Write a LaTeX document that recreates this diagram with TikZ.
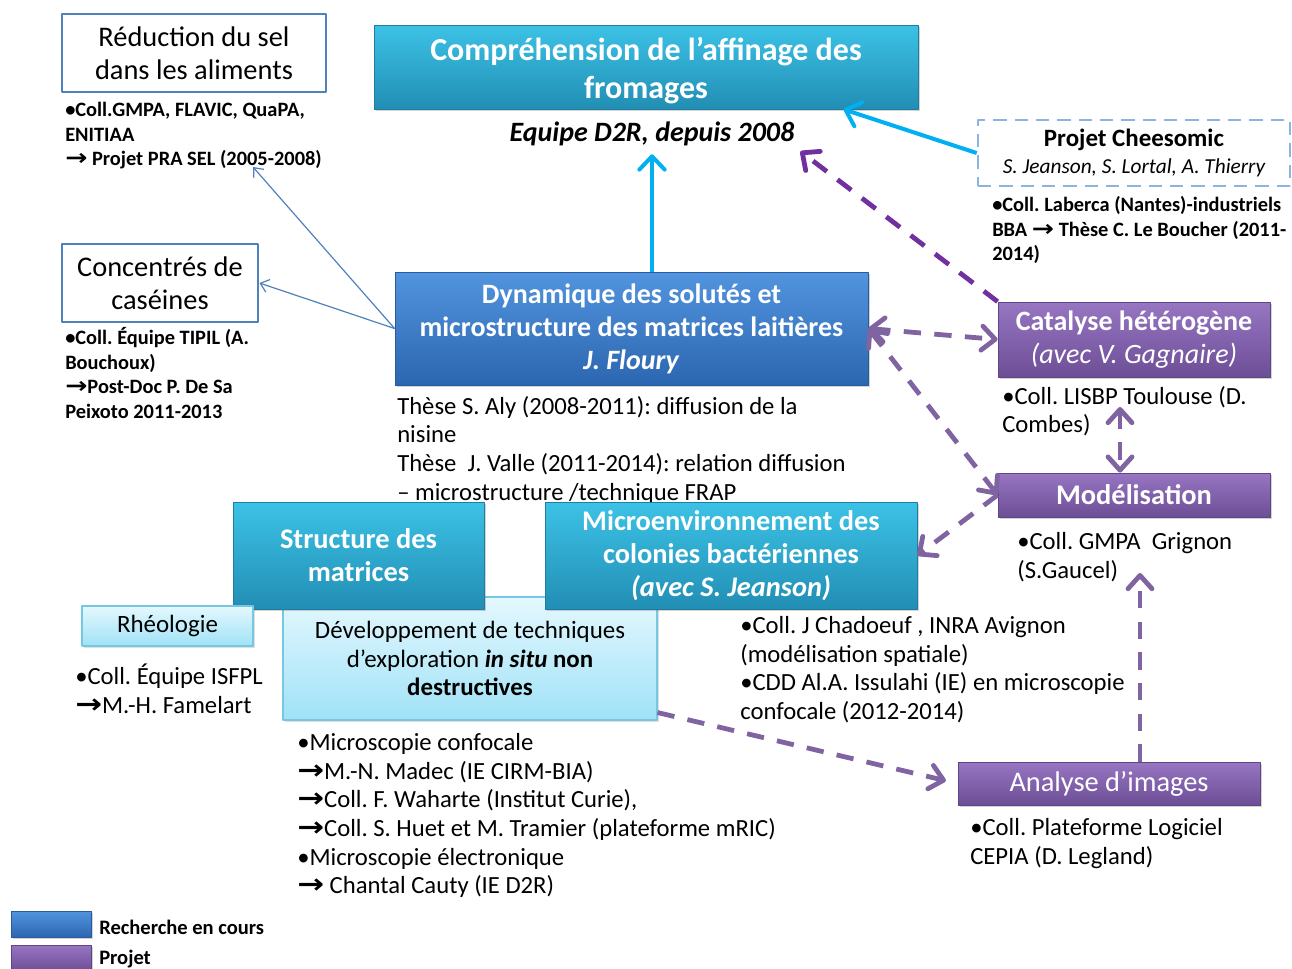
\documentclass[tikz,border=0pt]{standalone}
\usepackage{fontspec}
\setmainfont{Carlito}
\newfontfamily\arrowfont{DejaVu Sans}
\usetikzlibrary{arrows.meta,shadows}
\frenchspacing

\definecolor{cyantop}{RGB}{60,194,230}
\definecolor{cyanbot}{RGB}{34,142,180}
\definecolor{cyanedge}{RGB}{30,125,160}
\definecolor{bluetop}{RGB}{82,148,222}
\definecolor{bluebot}{RGB}{44,102,176}
\definecolor{blueedge}{RGB}{40,90,160}
\definecolor{violettop}{RGB}{152,118,194}
\definecolor{violetbot}{RGB}{108,78,150}
\definecolor{violetedge}{RGB}{95,68,135}
\definecolor{paletop}{RGB}{228,248,254}
\definecolor{palebot}{RGB}{160,226,247}
\definecolor{paleedge}{RGB}{118,200,226}
\definecolor{boxblue}{RGB}{79,129,189}
\definecolor{dashblue}{RGB}{141,179,226}
\definecolor{skyline}{RGB}{0,176,240}
\definecolor{violetline}{RGB}{128,100,162}
\definecolor{darkviolet}{RGB}{112,48,160}

\newcommand{\ra}{{\arrowfont\bfseries\scalebox{1.3}[1.1]{→}}}

\begin{document}
\begin{tikzpicture}[x=0.75pt,y=-0.75pt,join=round,
    shade box/.style={align=center,text=white,inner sep=0pt,
      drop shadow={shadow xshift=1.8pt,shadow yshift=-1.8pt,opacity=.35}},
    cyanbox/.style={shade box,top color=cyantop,bottom color=cyanbot,draw=cyanedge,line width=.6pt},
    bluebox/.style={shade box,top color=bluetop,bottom color=bluebot,draw=blueedge,line width=.6pt},
    violetbox/.style={shade box,top color=violettop,bottom color=violetbot,draw=violetedge,line width=.6pt},
    palebox/.style={align=center,inner sep=0pt,top color=paletop,bottom color=palebot,draw=paleedge,line width=.8pt,
      drop shadow={shadow xshift=1.5pt,shadow yshift=-1.5pt,opacity=.25},font=\fontsize{18.7}{21.6}\selectfont},
    whitebox/.style={align=center,inner sep=0pt,fill=white,draw=boxblue,line width=2.2pt,font=\fontsize{21.3}{24.75}\selectfont},
    smallnote/.style={anchor=north west,align=left,inner sep=0pt,font=\bfseries\fontsize{15.3}{18.5}\selectfont},
    note/.style={anchor=north west,align=left,inner sep=0pt,font=\fontsize{18.5}{21.5}\selectfont},
    skyarr/.style={draw=skyline,line width=3pt,-{Straight Barb[length=10pt,width=19pt,round]}},
    thinarr/.style={draw=boxblue,line width=.9pt,-{Straight Barb[length=6pt,width=10pt]}},
    violetarr/.style={draw=violetline,line width=3.6pt,dash pattern=on 13pt off 10pt,
      -{Straight Barb[length=10pt,width=18pt,round]}},
    darkarr/.style={violetarr,draw=darkviolet}]
\useasboundingbox (0,0) rectangle (1292,968);

% boites du haut
\node[whitebox,minimum width=198pt,minimum height=58.5pt] (reduc) at (194,53) {Réduction du sel\\dans les aliments};
\node[smallnote] (reducnote) at (65,102) {•Coll.GMPA, FLAVIC, QuaPA,\\ENITIAA\\\ra{} Projet PRA SEL (2005-2008)};
\node[cyanbox,minimum width=408pt,minimum height=63pt] (compr) at (646,67) {};
\node[text=white,align=center,inner sep=0pt,font=\bfseries\fontsize{24}{28}\selectfont] (comprtext) at (646,70.5)
  {Compréhension de l’affinage des\\fromages};
\node[font=\bfseries\itshape\fontsize{21}{24}\selectfont,inner sep=2pt] (d2r) at (652,134) {Equipe D2R, depuis 2008};
\node[draw=dashblue,line width=2pt,dash pattern=on 10pt off 6pt,align=center,inner sep=0pt,
  minimum width=234pt,minimum height=49.5pt,font=\fontsize{18.7}{20}\selectfont] (cheese) at (1134,153)
  {\textbf{Projet Cheesomic}\\{\fontsize{16}{18}\selectfont\itshape S. Jeanson, S. Lortal, A. Thierry}};
\node[smallnote] (cheesenote) at (992,196) {•Coll. Laberca (Nantes)-industriels\\BBA \ra{} Thèse C. Le Boucher (2011-\\2014)};

% milieu
\node[whitebox,minimum width=147pt,minimum height=58.5pt] (conc) at (160,283) {Concentrés de\\caséines};
\node[smallnote] (concnote) at (65,327) {•Coll. Équipe TIPIL (A.\\Bouchoux)\\\ra{}Post-Doc P. De Sa\\Peixoto 2011-2013};
\node[bluebox,minimum width=354.75pt,minimum height=84.75pt,font=\bfseries\fontsize{21}{24.75}\selectfont] (dyn) at (631.5,328.5)
  {Dynamique des solutés et\\microstructure des matrices laitières\\\textit{J. Floury}};
\node[note] (dynnote) at (397,396) {Thèse S. Aly (2008-2011): diffusion de la\\nisine\\Thèse\ \ J. Valle (2011-2014): relation diffusion\\– microstructure /technique FRAP};
\node[violetbox,minimum width=204pt,minimum height=56.25pt,font=\fontsize{21}{25}\selectfont] (cata) at (1134,339.5)
  {\textbf{Catalyse hétérogène}\\\textit{(avec V. Gagnaire)}};
\node[note] (catanote) at (1002,386) {•Coll. LISBP Toulouse (D.\\Combes)};
\node[violetbox,minimum width=204pt,minimum height=33pt,font=\bfseries\fontsize{21.3}{24}\selectfont] (model) at (1134,495) {Modélisation};
\node[note] (modelnote) at (1017,532) {•Coll. GMPA\ \ Grignon\\(S.Gaucel)};

% bas
\node[palebox,minimum width=280.5pt,minimum height=92.25pt] (dev) at (470,658.5)
  {Développement de techniques\\d’exploration \textbf{\textit{in situ}} \textbf{non}\\\textbf{destructives}};
\node[cyanbox,minimum width=188.25pt,minimum height=80.25pt,font=\bfseries\fontsize{21.3}{24.75}\selectfont] (struct) at (358.5,555.5) {Structure des\\matrices};
\node[cyanbox,minimum width=279pt,minimum height=80.25pt,font=\bfseries\fontsize{21.3}{24.75}\selectfont] (micro) at (731,555.5)
  {Microenvironnement des\\colonies bactériennes\\\textit{(avec S. Jeanson)}};
\node[palebox,minimum width=128.25pt,minimum height=30pt] (rheo) at (167.5,626) {Rhéologie};
\node[note] (rheonote) at (75,664) {•Coll. Équipe ISFPL\\\ra{}M.-H. Famelart};
\node[note] (devnote) at (297,733) {•Microscopie confocale\\\ra{}M.-N. Madec (IE CIRM-BIA)\\\ra{}Coll. F. Waharte (Institut Curie),\\\ra{}Coll. S. Huet et M. Tramier (plateforme mRIC)\\•Microscopie électronique\\\ra{} Chantal Cauty (IE D2R)};
\node[note] (micronote) at (740,616) {•Coll. J Chadoeuf , INRA Avignon\\(modélisation spatiale)\\•CDD Al.A. Issulahi (IE) en microscopie\\confocale (2012-2014)};
\node[violetbox,minimum width=226.5pt,minimum height=32.25pt,font=\fontsize{21.3}{24}\selectfont] (analyse) at (1109,783.5) {Analyse d’images};
\node[note] (analysenote) at (970,818) {•Coll. Plateforme Logiciel\\CEPIA (D. Legland)};

% legende
\node[bluebox,minimum width=60pt,minimum height=19.5pt] (legblue) at (51,924) {};
\node[anchor=west,inner sep=0pt,font=\bfseries\fontsize{15.4}{17}\selectfont] (legbluetext) at (99,927) {Recherche en cours};
\node[violetbox,minimum width=60pt,minimum height=19.5pt] (legviolet) at (51,958) {};
\node[anchor=west,inner sep=0pt,font=\bfseries\fontsize{15.4}{17}\selectfont] (legviolettext) at (99,959) {Projet};

% fleches
\coordinate (selpt) at (253,167);
\coordinate (lisbp) at (1120,407);
\coordinate (gaucel) at (1140,573);
\draw[skyarr] (dyn.north -| d2r.south) -- ([yshift=-4pt]d2r.south);
\draw[skyarr] (cheese.west) -- ([xshift=-56pt]compr.south east);
\draw[thinarr] (dyn.west) -- (selpt);
\draw[thinarr] (dyn.west) -- (conc.east);
\draw[darkarr,shorten >=3pt] (cata.north west) -- (d2r.south east);
\draw[violetarr,{Straight Barb[length=10pt,width=18pt,round]}-{Straight Barb[length=10pt,width=18pt,round]}] (dyn.east) -- (cata.west);
\draw[violetarr,{Straight Barb[length=10pt,width=18pt,round]}-{Straight Barb[length=10pt,width=18pt,round]}] (dyn.east) -- (model.west);
\draw[violetarr] (model.west) -- (micro.east);
\draw[violetarr,{Straight Barb[length=10pt,width=18pt,round]}-{Straight Barb[length=10pt,width=18pt,round]}] (lisbp) -- (lisbp |- model.north);
\draw[violetarr] (analyse.north -| gaucel) -- (gaucel);
\draw[violetarr,shorten >=9pt] ([yshift=6pt]dev.south east) -- (analyse.west);
\end{tikzpicture}
\end{document}
